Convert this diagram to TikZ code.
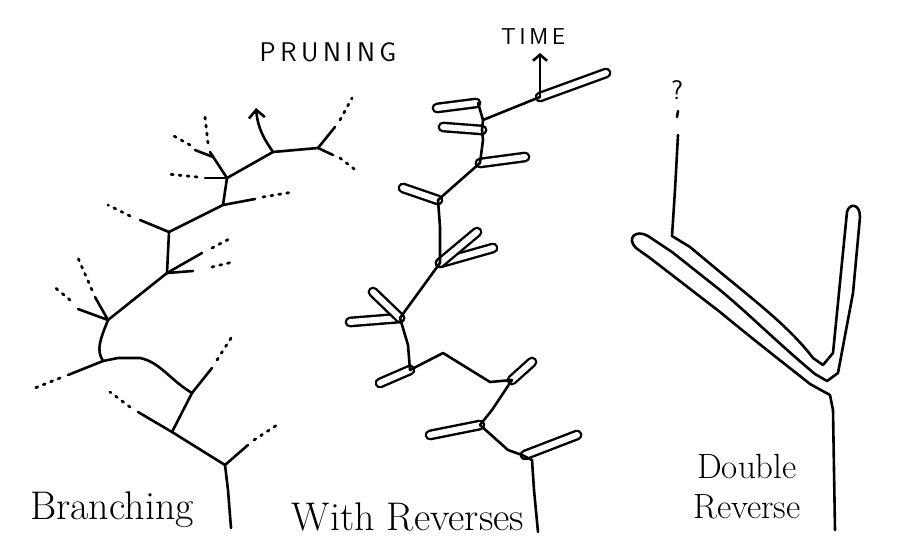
\documentclass[tikz,border=0pt]{standalone}
\usetikzlibrary{arrows.meta}
\begin{document}
\begin{tikzpicture}[x=1pt,y=-1pt,
  ln/.style={line width=2.6pt,line cap=round,line join=round},
  dt/.style={line width=2.8pt,line cap=round,dash pattern=on 2pt off 6pt},
  lp/.style={double=white,double distance=6pt,line width=2.4pt,line cap=round},
  lbl/.style={font=\fontsize{40}{44}\selectfont},
  hand/.style={font=\sffamily\fontsize{27}{30}\selectfont}]
\useasboundingbox (0,0) rectangle (900,556);
% ---------- Branching ----------
\draw[ln] (231,528) -- (228,490) -- (225,465);
\draw[ln] (225,465) -- (248,445); \draw[dt] (254,440) -- (280,423);
\draw[ln] (225,465) -- (172,432);
\draw[ln] (172,432) -- (138,412); \draw[dt] (130,407) -- (110,392);
\draw[ln] (172,432) -- (192,393);
\draw[ln] (192,393) -- (212,368); \draw[dt] (217,360) -- (233,335);
\draw[ln] (192,393) .. controls (170,380) and (160,362) .. (140,358) -- (118,358) -- (103,361);
\draw[ln] (103,361) -- (68,375); \draw[dt] (60,378) -- (35,388);
\draw[ln] (103,361) .. controls (96,350) and (100,340) .. (108,320);
\draw[ln] (108,320) -- (78,309); \draw[dt] (70,300) -- (52,285);
\draw[ln] (108,320) -- (95,297); \draw[dt] (92,290) -- (78,258);
\draw[ln] (108,320) -- (167,273);
\draw[ln] (167,273) -- (193,271);
\draw[ln] (167,273) -- (202,253);
\draw[dt] (212,248) -- (233,237); \draw[dt] (212,267) -- (233,262);
\draw[ln] (167,273) -- (169,232);
\draw[ln] (169,232) -- (140,220); \draw[dt] (130,216) -- (108,205);
\draw[ln] (169,232) -- (223,205);
\draw[ln] (223,205) -- (255,199); \draw[dt] (263,197) -- (293,192);
\draw[ln] (223,205) -- (227,178);
\draw[ln] (227,178) -- (205,178); \draw[dt] (197,177) -- (167,174);
\draw[ln] (227,178) -- (210,152);
\draw[ln] (213,157) -- (195,150);
\draw[dt] (208,143) -- (205,117); \draw[dt] (190,145) -- (172,135);
\draw[ln] (227,178) -- (273,152);
\draw[ln,-{Straight Barb[length=8pt,width=16pt]}] (273,152) .. controls (265,140) and (258,130) .. (256,108);
\draw[ln] (273,152) -- (318,148);
\draw[ln] (318,148) -- (335,127); \draw[dt] (340,120) -- (352,98);
\draw[ln] (318,148) -- (333,155); \draw[dt] (340,158) -- (358,172);
% ---------- With Reverses ----------
\foreach \a/\b in {{525,455}/{577,435},{480,425}/{430,435},{512,380}/{532,362},
  {410,370}/{380,383},{400,318}/{350,322},{400,318}/{373,292},
  {440,263}/{493,248},{440,263}/{477,232},{438,200}/{403,188},
  {480,163}/{525,157},{482,130}/{443,127},{476,103}/{437,108},{540,97}/{606,73}}
  \draw[lp] (\a) -- (\b);
\draw[ln] (538,532) -- (534,490) -- (532,460) -- (522,455);
\draw[ln] (522,455) -- (508,450) -- (480,425);
\draw[ln] (480,425) -- (492,410) -- (512,380);
\draw[ln] (512,380) -- (490,382) -- (443,353) -- (410,370);
\draw[ln] (410,370) -- (408,345) -- (400,318);
\draw[ln] (400,318) -- (440,263);
\draw[ln] (440,263) -- (440,227) -- (438,200);
\draw[ln] (438,200) -- (480,163);
\draw[ln] (480,163) -- (483,140) -- (482,130);
\draw[ln] (482,130) -- (483,120) -- (478,103);
\draw[ln] (483,120) -- (540,97);
\draw[ln,-{Straight Barb[length=6pt,width=14pt]}] (540,97) -- (540,53);
% ---------- Double Reverse ----------
\draw[ln] (678,135) -- (675,190) -- (672,236) -- (690,247) -- (720,272)
  .. controls (760,305) and (790,328) .. (813,358) -- (823,365) -- (833,353)
  -- (847,212) .. controls (849,203) and (860,203) .. (860,217)
  -- (853,293) -- (838,373) -- (827,381) -- (815,374)
  .. controls (780,345) and (750,315) .. (720,290) -- (672,252) -- (648,236)
  .. controls (636,229) and (626,238) .. (636,248) -- (650,258)
  -- (720,312) .. controls (760,345) and (790,368) .. (810,384)
  -- (830,395) -- (833,410) -- (835,530);
\draw[line width=2.6pt,line cap=round] (678,111) -- (677,117);
\node[hand] (q) at (677,90) {?};
% ---------- texts ----------
\node[hand] (pr) at (328,52) {P\,R\,U\,N\,I\,N\,G};
\node[hand,font=\sffamily\fontsize{23}{25}\selectfont] (tm) at (533,37) {T\,I\,M\,E};
\node[lbl] (b) at (112,510) {Branching};
\node[lbl] (w) at (408,517) {With Reverses};
\node[lbl,align=center,font=\fontsize{35}{40}\selectfont] (d) at (747,487) {Double\\Reverse};
\end{tikzpicture}
\end{document}
